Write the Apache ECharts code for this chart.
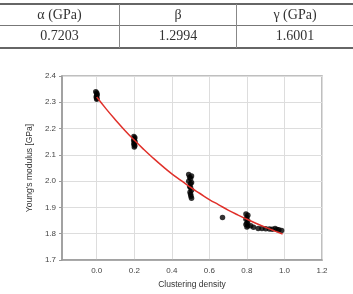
<!DOCTYPE html>
<html>
<head>
<meta charset="utf-8">
<script src="https://cdn.jsdelivr.net/npm/echarts@6/dist/echarts.min.js"></script>
<style>
html,body{margin:0;padding:0;background:#fff;width:353px;height:294px;overflow:hidden;}
#tbl{position:absolute;left:0;top:0;width:353px;height:50px;font-family:"Liberation Serif","DejaVu Serif",serif;color:#333;font-size:14px;}
.hl{position:absolute;left:0;width:353px;background:#666;}
.vl{position:absolute;width:1px;background:#888;top:4px;height:44px;}
.cell{position:absolute;text-align:center;line-height:20px;}
#chart{position:absolute;left:0;top:0;width:353px;height:294px;}
</style>
</head>
<body>
<div id="chart"></div>
<div id="tbl"></div>
<script>
// Table content
const tableHeaders = ["α (GPa)", "β", "γ (GPa)"];
const tableValues = ["0.7203", "1.2994", "1.6001"];

// Scatter data: clustering density, Young's modulus (GPa)
const pointsX = [
  -0.005, 0, 0.002, 0, -0.003, 0.001, 0,
  0.198, 0.203, 0.2, 0.197, 0.204, 0.2, 0.198, 0.203, 0.2,
  0.49, 0.505, 0.495, 0.5, 0.49, 0.505, 0.5, 0.495, 0.5, 0.505, 0.497, 0.5, 0.502, 0.505,
  0.67,
  0.795, 0.805, 0.8, 0.795, 0.805, 0.8, 0.795, 0.805, 0.8,
  0.82, 0.835, 0.86, 0.88, 0.9, 0.92, 0.935, 0.95, 0.96, 0.97, 0.985
];
const pointsY = [
  2.34, 2.335, 2.33, 2.325, 2.32, 2.315, 2.312,
  2.17, 2.165, 2.16, 2.155, 2.15, 2.145, 2.14, 2.135, 2.13,
  2.025, 2.02, 2.015, 2.01, 2.0, 1.995, 1.99, 1.98, 1.975, 1.965, 1.958, 1.95, 1.943, 1.935,
  1.862,
  1.875, 1.87, 1.862, 1.855, 1.848, 1.84, 1.835, 1.83, 1.826,
  1.83, 1.825, 1.82, 1.82, 1.819, 1.818, 1.817, 1.82, 1.816, 1.815, 1.812
];

// Fitted curve
const curveX = [0, 0.05, 0.1, 0.15, 0.2, 0.25, 0.3, 0.35, 0.4, 0.45, 0.5, 0.55, 0.6, 0.65, 0.7, 0.75, 0.8, 0.85, 0.9, 0.95, 0.99];
const curveY = [2.320, 2.275, 2.233, 2.193, 2.156, 2.121, 2.088, 2.057, 2.028, 2.002, 1.976, 1.953, 1.930, 1.910, 1.890, 1.872, 1.855, 1.839, 1.824, 1.810, 1.799];

const xTicks = [0, 0.2, 0.4, 0.6, 0.8, 1.0, 1.2];

// Build table
const tbl = document.getElementById('tbl');
function add(cls, style, text) {
  const d = document.createElement('div');
  d.className = cls;
  Object.assign(d.style, style);
  if (text !== undefined) d.textContent = text;
  tbl.appendChild(d);
}
add('hl', {top: '3px', height: '1.5px'});
add('hl', {top: '25px', height: '1px', background: '#777'});
add('hl', {top: '47px', height: '1.5px'});
add('vl', {left: '119px'});
add('vl', {left: '236px'});
const colL = [0, 120, 237], colW = [119, 116, 116];
for (let i = 0; i < 3; i++) {
  add('cell', {left: colL[i] + 'px', width: colW[i] + 'px', top: '5px'}, tableHeaders[i]);
  add('cell', {left: colL[i] + 'px', width: colW[i] + 'px', top: '26px'}, tableValues[i]);
}

const chart = echarts.init(document.getElementById('chart'), null, {renderer: 'canvas'});
const labelFont = {fontFamily: 'Liberation Sans', fontSize: 8, color: '#444'};
chart.setOption({
  animation: false,
  grid: {left: 62, top: 76, right: 31, bottom: 31, show: true, borderColor: '#aaa', borderWidth: 1.5},
  xAxis: {
    type: 'value', min: -0.185, max: 1.2,
    name: 'Clustering density', nameLocation: 'middle', nameGap: 20,
    nameTextStyle: {fontFamily: 'Liberation Sans', fontSize: 8.5, color: '#333'},
    axisLine: {onZero: false, lineStyle: {color: '#999', width: 1.5}},
    axisTick: {show: false, customValues: xTicks},
    axisLabel: Object.assign({margin: 7, customValues: xTicks, formatter: v => v.toFixed(1)}, labelFont),
    splitLine: {show: true, lineStyle: {color: '#ddd', width: 1}}
  },
  yAxis: {
    type: 'value', min: 1.7, max: 2.4, interval: 0.1,
    name: "Young's modulus [GPa]", nameLocation: 'middle', nameGap: 21,
    nameTextStyle: {fontFamily: 'Liberation Sans', fontSize: 8.5, color: '#333'},
    axisLine: {show: true, onZero: false, lineStyle: {color: '#999', width: 1.5}},
    axisTick: {show: true, length: 3, lineStyle: {color: '#999'}},
    axisLabel: Object.assign({margin: 6, formatter: v => v.toFixed(1)}, labelFont),
    splitLine: {show: true, lineStyle: {color: '#ddd', width: 1}}
  },
  series: [
    {
      type: 'line', data: curveX.map((x, i) => [x, curveY[i]]),
      smooth: true, showSymbol: false, lineStyle: {color: '#e0302a', width: 1.5}, z: 3
    },
    {
      type: 'scatter', data: pointsX.map((x, i) => [x, pointsY[i]]),
      symbolSize: 5.5, itemStyle: {color: '#000'}, z: 2
    }
  ]
});
</script>
</body>
</html>
